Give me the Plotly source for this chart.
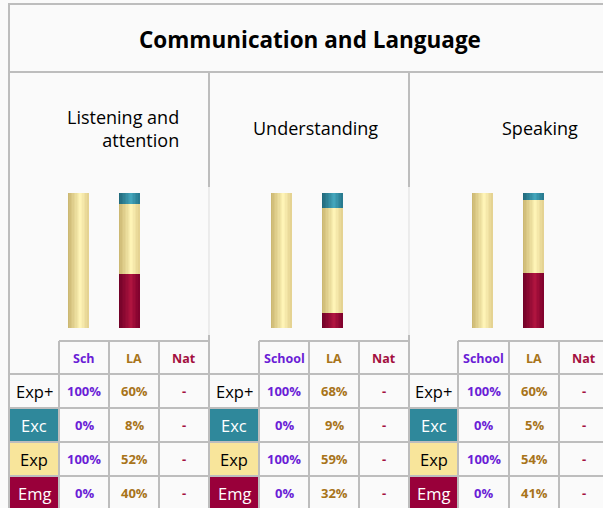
import plotly.graph_objects as go

# ---- data ----
panel_titles = ["Listening and<br>attention", "Understanding", "Speaking"]
col_headers = [["Sch", "LA", "Nat"], ["School", "LA", "Nat"], ["School", "LA", "Nat"]]
row_labels = ["Exp+", "Exc", "Exp", "Emg"]

# bar heights as drawn in the cylinders (Sch/School, LA, Nat)
listening_emg = [0, 40, 0]
listening_exp = [100, 52, 0]
listening_exc = [0, 8, 0]
understanding_emg = [0, 11, 0]
understanding_exp = [100, 78, 0]
understanding_exc = [0, 11, 0]
speaking_emg = [0, 41, 0]
speaking_exp = [100, 54, 0]
speaking_exc = [0, 5, 0]

# table values (rows: Exp+, Exc, Exp, Emg)
listening_sch = ["100%", "0%", "100%", "0%"]
listening_la = ["60%", "8%", "52%", "40%"]
listening_nat = ["-", "-", "-", "-"]
understanding_sch = ["100%", "0%", "100%", "0%"]
understanding_la = ["68%", "9%", "59%", "32%"]
understanding_nat = ["-", "-", "-", "-"]
speaking_sch = ["100%", "0%", "100%", "0%"]
speaking_la = ["60%", "5%", "54%", "41%"]
speaking_nat = ["-", "-", "-", "-"]

bars = [
    (listening_emg, listening_exp, listening_exc),
    (understanding_emg, understanding_exp, understanding_exc),
    (speaking_emg, speaking_exp, speaking_exc),
]
tables = [
    (listening_sch, listening_la, listening_nat),
    (understanding_sch, understanding_la, understanding_nat),
    (speaking_sch, speaking_la, speaking_nat),
]

W, H = 603, 508
FONT = "Open Sans"
GRID = "#BDBDBD"
BG = "#FAFAFA"
COL_COLORS = ["#6A1ED6", "#A8741A", "#A3103F"]

# colour stops (left edge, highlight, right edge) for the cylinder shading
shade_stops = {
    "emg": [(0.0, "#6E0027"), (0.6, "#B0143F"), (1.0, "#7E002C")],
    "exp": [(0.0, "#C9B46E"), (0.62, "#FFF5B8"), (1.0, "#E2D08E")],
    "exc": [(0.0, "#1F6678"), (0.6, "#44A6BC"), (1.0, "#26778C")],
}


def hex2rgb(h):
    return [int(h[i:i + 2], 16) for i in (1, 3, 5)]


def shade(stops, t):
    for (t0, c0), (t1, c1) in zip(stops, stops[1:]):
        if t <= t1:
            f = (t - t0) / (t1 - t0)
            a, b = hex2rgb(c0), hex2rgb(c1)
            return "rgb(%d,%d,%d)" % tuple(round(a[j] + (b[j] - a[j]) * f) for j in range(3))
    return stops[-1][1]


def px(x):
    return x / W


def py(y):
    return 1 - y / H


fig = go.Figure()

# cylinder bars
x_domains = [(52.5, 205.5), (255.5, 408.5), (456.5, 603)]
bar_w = 20 / 51
n_str = 14
sw = bar_w / n_str
for i, (emg, exp, exc) in enumerate(bars):
    xa = "x" if i == 0 else f"x{i + 1}"
    ya = "y" if i == 0 else f"y{i + 1}"
    base = [0, 0, 0]
    for key, vals in (("emg", emg), ("exp", exp), ("exc", exc)):
        for s in range(n_str):
            c = shade(shade_stops[key], (s + 0.5) / n_str)
            fig.add_trace(go.Bar(
                x=[0, 1, 2], y=vals, base=base, width=sw * 1.1,
                offset=-bar_w / 2 + s * sw, marker=dict(color=c, line=dict(width=0)),
                xaxis=xa, yaxis=ya, showlegend=False, hoverinfo="skip"))
        base = [b + v for b, v in zip(base, vals)]

    d0, d1 = x_domains[i]
    rng_hi = -0.5 + (d1 - d0) / 51
    fig.layout[f"xaxis{'' if i == 0 else i + 1}"] = dict(
        domain=[px(d0), px(d1)], range=[-0.5, rng_hi], visible=False, anchor=ya)
    fig.layout[f"yaxis{'' if i == 0 else i + 1}"] = dict(
        domain=[py(328), py(193)], range=[0, 100], visible=False, anchor=xa)

shapes = []


def line(x0, y0, x1, y1, color=GRID, width=2):
    shapes.append(dict(type="line", xref="paper", yref="paper",
                       x0=px(x0), y0=py(y0), x1=px(x1), y1=py(y1),
                       line=dict(color=color, width=width), layer="below"))


def rect(x0, y0, x1, y1, color):
    shapes.append(dict(type="rect", xref="paper", yref="paper",
                       x0=px(x0), y0=py(y0), x1=px(x1), y1=py(y1),
                       fillcolor=color, line=dict(width=0), layer="below"))


# outer frame and title row
line(8, 4, 603, 4)
line(8, 72, 603, 72)
line(9, 4, 9, 508)
for xv in (209, 409):
    line(xv, 72, xv, 187)
    line(xv, 187, xv, 335, color="#DDDDDD", width=1)
    line(xv, 335, xv, 508)

# table grid
label_x = [(9, 59), (209, 259), (409, 458)]
col_x = [[59, 109, 159, 209], [259, 309, 359, 409], [458, 509, 559, 609]]
row_y = [374, 408, 442, 476, 510]
for i in range(3):
    line(col_x[i][0], 341, min(col_x[i][3], 603), 341)
    for xv in col_x[i][:3]:
        line(xv, 341, xv, 508)
for yv in row_y[:4]:
    line(8, yv, 603, yv)

# coloured label cells
label_fill = ["rgba(0,0,0,0)", "#2F889B", "#F8E59B", "#99003A"]
label_font = ["black", "white", "black", "white"]
for i in range(3):
    for r in range(1, 4):
        rect(label_x[i][0] + 1, row_y[r] + 1, label_x[i][1] - 1, row_y[r + 1] - 1, label_fill[r])


def note(text, x, y, size, color, xanchor="center", align="center", bold=False):
    return dict(text=f"<b>{text}</b>" if bold else text, x=px(x), y=py(y),
                xref="paper", yref="paper", xanchor=xanchor, yanchor="middle",
                align=align, showarrow=False,
                font=dict(family=FONT, size=size, color=color))


annotations = [note("Communication and Language", 310, 40, 22.5, "black", bold=True)]

title_pos = [(181, 128, "right"), (316, 128, "center"), (540, 128, "center")]
for i, t in enumerate(panel_titles):
    x, y, xa = title_pos[i]
    annotations.append(note(t, x, y, 18, "black", xanchor=xa, align=xa))

row_c = [391, 425, 459, 493]
for i in range(3):
    cx = [(col_x[i][k] + col_x[i][k + 1]) / 2 for k in range(3)]
    for k in range(3):
        annotations.append(note(col_headers[i][k], cx[k], 358, 12.5, COL_COLORS[k], bold=True))
    lx = (label_x[i][0] + label_x[i][1]) / 2
    for r in range(4):
        annotations.append(note(row_labels[r], lx, row_c[r], 16.5, label_font[r]))
        for k in range(3):
            annotations.append(note(tables[i][k][r], cx[k], row_c[r], 13, COL_COLORS[k], bold=True))

fig.update_layout(
    width=W, height=H, margin=dict(l=0, r=0, t=0, b=0),
    paper_bgcolor=BG, plot_bgcolor="rgba(0,0,0,0)",
    barmode="overlay", bargap=0,
    shapes=shapes, annotations=annotations, showlegend=False,
)

fig.write_html("out.html", config={"displayModeBar": False},
               post_script="document.body.style.margin='0';")
